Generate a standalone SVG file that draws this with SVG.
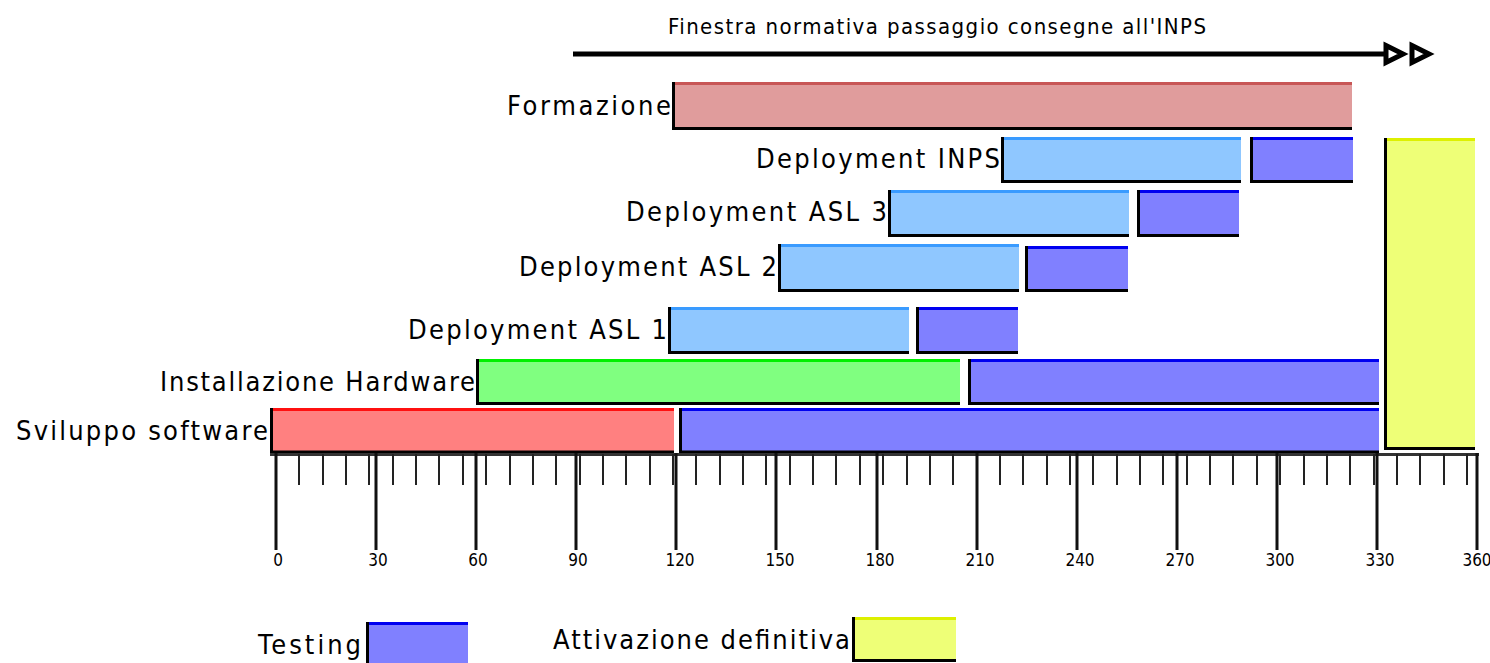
<svg xmlns="http://www.w3.org/2000/svg" width="1490" height="663" viewBox="0 0 1490 663">
<style>
  text { font-family: "DejaVu Sans", "DejaVu Sans Condensed", sans-serif; font-stretch: condensed; fill: #000; }
  .lbl { font-size: 27px; text-anchor: end; }
  .leg { font-size: 27px; }
  .ttl { font-size: 22px; }
  .num { font-size: 17px; text-anchor: middle; }
  .edge { fill: none; stroke: #000; stroke-width: 3; }
  .f-form { fill: #E09C9C; } .t-form { stroke: #C85656; stroke-width: 3; }
  .f-dep { fill: #8FC7FF; } .t-dep { stroke: #3A9BFF; stroke-width: 3; }
  .f-test { fill: #8080FF; } .t-test { stroke: #0000F0; stroke-width: 3; }
  .f-hw { fill: #80FF80; } .t-hw { stroke: #00F000; stroke-width: 3; }
  .f-sw { fill: #FF8080; } .t-sw { stroke: #FF1010; stroke-width: 3; }
  .f-act { fill: #EEFF77; } .t-act { stroke: #DDF000; stroke-width: 3; }
  .major { stroke: #111; stroke-width: 3; fill: none; }
  .minor { stroke: #222; stroke-width: 2; fill: none; }
  .head { fill: #fff; stroke: #000; stroke-width: 5; stroke-linejoin: miter; }
</style>

<g id="connectors">
  <line x1="573" y1="54" x2="1386" y2="54" stroke="#000" stroke-width="5"/>
  <polygon class="head" points="1386,45.5 1403,54 1386,62.5"/>
  <polygon class="head" points="1412,45.5 1429,54 1412,62.5"/>
</g>
<text id="title" class="ttl" x="668" y="34" textLength="538" lengthAdjust="spacing">Finestra normativa passaggio consegne all'INPS</text>

<g id="formazione">
  <rect class="f-form" x="672" y="82" width="680" height="46"/>
  <line class="t-form" x1="673" y1="83.5" x2="1352" y2="83.5"/>
  <path class="edge" d="M673.5,82 V128.5 H1352"/>
  <text class="lbl" x="671" y="115" textLength="164" lengthAdjust="spacing">Formazione</text>
</g>

<g id="deployment-inps">
  <rect class="f-dep" x="1001" y="137" width="240" height="44"/>
  <line class="t-dep" x1="1002" y1="138.5" x2="1241" y2="138.5"/>
  <path class="edge" d="M1002.5,137 V181.5 H1241"/>
  <text class="lbl" x="1000" y="168" textLength="244" lengthAdjust="spacing">Deployment INPS</text>
  <rect class="f-test" x="1250" y="137" width="103" height="44"/>
  <line class="t-test" x1="1251" y1="138.5" x2="1353" y2="138.5"/>
  <path class="edge" d="M1251.5,137 V181.5 H1353"/>
</g>

<g id="deployment-asl3">
  <rect class="f-dep" x="888" y="190" width="241" height="45"/>
  <line class="t-dep" x1="889" y1="191.5" x2="1129" y2="191.5"/>
  <path class="edge" d="M889.5,190 V235.5 H1129"/>
  <text class="lbl" x="887" y="221" textLength="261" lengthAdjust="spacing">Deployment ASL 3</text>
  <rect class="f-test" x="1137" y="190" width="102" height="45"/>
  <line class="t-test" x1="1138" y1="191.5" x2="1239" y2="191.5"/>
  <path class="edge" d="M1138.5,190 V235.5 H1239"/>
</g>

<g id="deployment-asl2">
  <rect class="f-dep" x="778" y="244" width="241" height="46"/>
  <line class="t-dep" x1="779" y1="245.5" x2="1019" y2="245.5"/>
  <path class="edge" d="M779.5,244 V290.5 H1019"/>
  <text class="lbl" x="777" y="276" textLength="258" lengthAdjust="spacing">Deployment ASL 2</text>
  <rect class="f-test" x="1025" y="246" width="103" height="44"/>
  <line class="t-test" x1="1026" y1="247.5" x2="1128" y2="247.5"/>
  <path class="edge" d="M1026.5,246 V290.5 H1128"/>
</g>

<g id="deployment-asl1">
  <rect class="f-dep" x="668" y="307" width="241" height="45"/>
  <line class="t-dep" x1="669" y1="308.5" x2="909" y2="308.5"/>
  <path class="edge" d="M669.5,307 V352.5 H909"/>
  <text class="lbl" x="667" y="339" textLength="259" lengthAdjust="spacing">Deployment ASL 1</text>
  <rect class="f-test" x="916" y="307" width="102" height="45"/>
  <line class="t-test" x1="917" y1="308.5" x2="1018" y2="308.5"/>
  <path class="edge" d="M917.5,307 V352.5 H1018"/>
</g>

<g id="installazione-hardware">
  <rect class="f-hw" x="476" y="359" width="484" height="44"/>
  <line class="t-hw" x1="477" y1="360.5" x2="960" y2="360.5"/>
  <path class="edge" d="M477.5,359 V403.5 H960"/>
  <text class="lbl" x="475" y="391" textLength="315" lengthAdjust="spacing">Installazione Hardware</text>
  <rect class="f-test" x="968" y="359" width="411" height="44"/>
  <line class="t-test" x1="969" y1="360.5" x2="1379" y2="360.5"/>
  <path class="edge" d="M969.5,359 V403.5 H1379"/>
</g>

<g id="sviluppo-software">
  <rect class="f-sw" x="270" y="408" width="404" height="44"/>
  <line class="t-sw" x1="271" y1="409.5" x2="674" y2="409.5"/>
  <path class="edge" d="M271.5,408 V452 H674"/>
  <text class="lbl" x="268" y="440" textLength="252" lengthAdjust="spacing">Sviluppo software</text>
  <rect class="f-test" x="679" y="408" width="700" height="44"/>
  <line class="t-test" x1="680" y1="409.5" x2="1379" y2="409.5"/>
  <path class="edge" d="M680.5,408 V452 H1379"/>
</g>

<g id="attivazione-definitiva">
  <rect class="f-act" x="1384" y="138" width="91" height="310"/>
  <line class="t-act" x1="1385" y1="139.5" x2="1475" y2="139.5"/>
  <path class="edge" d="M1385.5,138 V448.5 H1475"/>
</g>

<g id="axis">
  <line x1="270" y1="454.5" x2="1479" y2="454.5" stroke="#333" stroke-width="3"/>
  <path class="minor" d="M299,454V485 M323,454V485 M346,454V485 M369,454V485 M393,454V485 M416,454V485 M439,454V485 M463,454V485 M486,454V485 M510,454V485 M533,454V485 M556,454V485 M580,454V485 M603,454V485 M626,454V485 M650,454V485 M673,454V485 M696,454V485 M720,454V485 M743,454V485 M766,454V485 M790,454V485 M813,454V485 M836,454V485 M860,454V485 M883,454V485 M907,454V485 M930,454V485 M953,454V485 M1000,454V485 M1023,454V485 M1047,454V485 M1070,454V485 M1093,454V485 M1117,454V485 M1140,454V485 M1163,454V485 M1187,454V485 M1210,454V485 M1233,454V485 M1257,454V485 M1280,454V485 M1304,454V485 M1327,454V485 M1350,454V485 M1374,454V485 M1397,454V485 M1420,454V485 M1444,454V485 M1467,454V485"/>
  <path class="major" d="M276,453V550 M376,453V550 M476,453V550 M576,453V550 M676,453V550 M776,453V550 M877,453V550 M977,453V550 M1077,453V550 M1177,453V550 M1277,453V550 M1377,453V550 M1477,453V550"/>
  <text class="num" x="278" y="566">0</text>
  <text class="num" x="378" y="566">30</text>
  <text class="num" x="478" y="566">60</text>
  <text class="num" x="578" y="566">90</text>
  <text class="num" x="680" y="566">120</text>
  <text class="num" x="780" y="566">150</text>
  <text class="num" x="880" y="566">180</text>
  <text class="num" x="980" y="566">210</text>
  <text class="num" x="1080" y="566">240</text>
  <text class="num" x="1180" y="566">270</text>
  <text class="num" x="1280" y="566">300</text>
  <text class="num" x="1380" y="566">330</text>
  <text class="num" x="1477" y="566">360</text>
</g>

<g id="legend-testing">
  <text class="leg" x="361" y="654" text-anchor="end" textLength="103" lengthAdjust="spacing">Testing</text>
  <rect class="f-test" x="366" y="622" width="102" height="41"/>
  <line class="t-test" x1="367" y1="623.5" x2="468" y2="623.5"/>
  <path class="edge" d="M367.5,622 V663"/>
</g>

<g id="legend-attivazione">
  <text class="leg" x="850" y="649" text-anchor="end" textLength="297" lengthAdjust="spacing">Attivazione definitiva</text>
  <rect class="f-act" x="852" y="617" width="104" height="43"/>
  <line class="t-act" x1="853" y1="618.5" x2="956" y2="618.5"/>
  <path class="edge" d="M853.5,617 V660.5 H956"/>
</g>
</svg>
